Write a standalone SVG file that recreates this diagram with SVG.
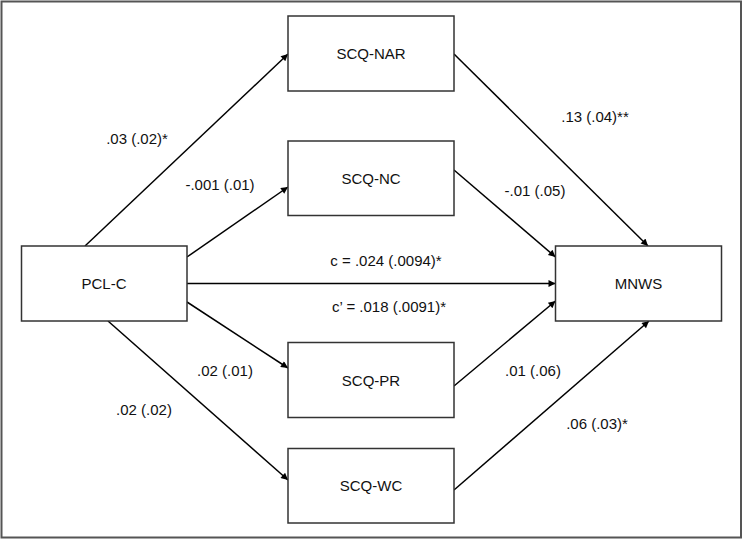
<svg xmlns="http://www.w3.org/2000/svg" width="743" height="540" viewBox="0 0 743 540">
<defs>
<marker id="ah" viewBox="0 0 10 10" refX="10" refY="5" markerWidth="9" markerHeight="7" markerUnits="userSpaceOnUse" orient="auto">
<path d="M0,0 L10,5 L0,10 z" fill="#000"/>
</marker>
<style>
.box{fill:#fff;stroke:#333;stroke-width:1.5}
.lbl{font-family:"Liberation Sans",Arial,sans-serif;font-size:15px;fill:#111;text-anchor:middle;dominant-baseline:central}
.edge{stroke:#000;stroke-width:1.5;fill:none;marker-end:url(#ah)}
</style>
</defs>
<rect x="0" y="0" width="743" height="540" fill="#fff"/>
<rect x="1.5" y="1.5" width="739.5" height="536" fill="none" stroke="#555" stroke-width="2"/>
<g id="connectors">
<line class="edge" x1="85" y1="246" x2="288" y2="54"/>
<line class="edge" x1="187" y1="257" x2="288" y2="187"/>
<line class="edge" x1="187" y1="283.5" x2="555.5" y2="283.5"/>
<line class="edge" x1="187" y1="302" x2="288" y2="368"/>
<line class="edge" x1="108" y1="321" x2="288" y2="480"/>
<line class="edge" x1="454" y1="54" x2="648" y2="246"/>
<line class="edge" x1="454" y1="170" x2="555.5" y2="257"/>
<line class="edge" x1="454" y1="386" x2="555.5" y2="301"/>
<line class="edge" x1="454" y1="490" x2="649" y2="321"/>
<text class="lbl" x="137" y="138">.03 (.02)*</text>
<text class="lbl" x="220" y="184">-.001 (.01)</text>
<text class="lbl" x="386" y="260">c = .024 (.0094)*</text>
<text class="lbl" x="389" y="306">c’ = .018 (.0091)*</text>
<text class="lbl" x="225" y="370">.02 (.01)</text>
<text class="lbl" x="144" y="409">.02 (.02)</text>
<text class="lbl" x="595" y="116">.13 (.04)**</text>
<text class="lbl" x="535" y="190">-.01 (.05)</text>
<text class="lbl" x="533" y="370">.01 (.06)</text>
<text class="lbl" x="597" y="423">.06 (.03)*</text>
</g>
<g id="PCL-C">
<rect class="box" x="21.5" y="246" width="165.5" height="75"/>
<text class="lbl" x="104" y="283.5">PCL-C</text>
</g>
<g id="SCQ-NAR">
<rect class="box" x="288" y="16" width="166" height="75"/>
<text class="lbl" x="371" y="53.5">SCQ-NAR</text>
</g>
<g id="SCQ-NC">
<rect class="box" x="288" y="141" width="166" height="74.5"/>
<text class="lbl" x="371" y="178">SCQ-NC</text>
</g>
<g id="SCQ-PR">
<rect class="box" x="288" y="342.5" width="166" height="75"/>
<text class="lbl" x="371" y="380">SCQ-PR</text>
</g>
<g id="SCQ-WC">
<rect class="box" x="288" y="448.5" width="166" height="74.5"/>
<text class="lbl" x="371" y="485.5">SCQ-WC</text>
</g>
<g id="MNWS">
<rect class="box" x="555.5" y="246" width="166" height="75"/>
<text class="lbl" x="638.5" y="283.5">MNWS</text>
</g>
</svg>
